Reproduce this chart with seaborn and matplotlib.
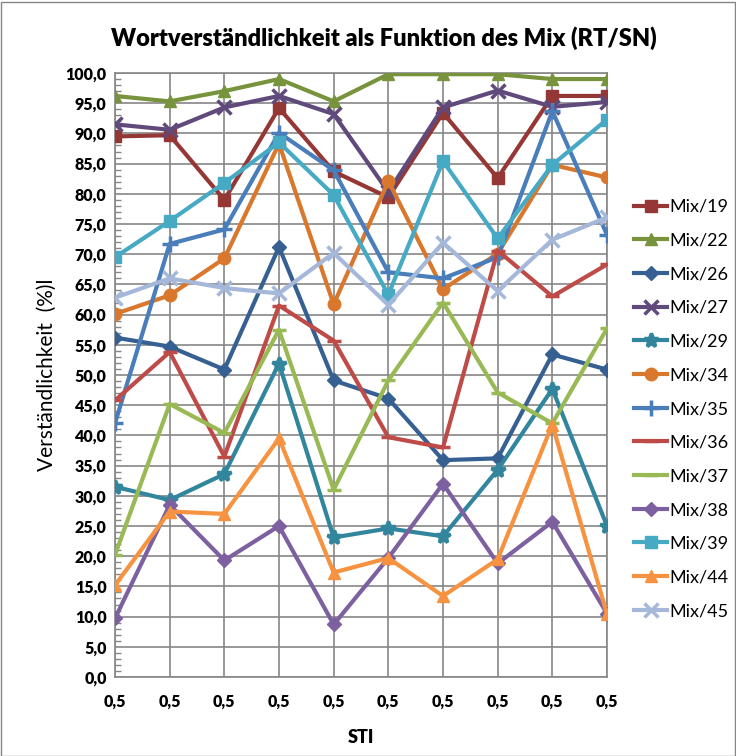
import matplotlib
matplotlib.use("Agg")
import matplotlib.pyplot as plt
import seaborn as sns
import numpy as np
import pandas as pd
from matplotlib.patches import Rectangle
from matplotlib.ticker import MultipleLocator, FuncFormatter

# ---- data ----
x_labels = ["0,5"] * 10
series_names = ["Mix/19", "Mix/22", "Mix/26", "Mix/27", "Mix/29", "Mix/34", "Mix/35",
                "Mix/36", "Mix/37", "Mix/38", "Mix/39", "Mix/44", "Mix/45"]
mix19 = [89.5, 89.7, 79.0, 94.2, 83.7, 79.4, 93.4, 82.6, 96.2, 96.2]
mix22 = [96.2, 95.3, 97.0, 99.0, 95.3, 99.8, 99.8, 99.8, 99.0, 99.0]
mix26 = [56.2, 54.7, 50.9, 71.2, 49.1, 46.1, 35.9, 36.2, 53.4, 50.9]
mix27 = [91.5, 90.6, 94.3, 96.2, 93.2, 80.3, 94.3, 97.1, 94.4, 95.2]
mix29 = [31.5, 29.3, 33.6, 51.9, 23.1, 24.6, 23.3, 34.3, 47.7, 25.0]
mix34 = [60.1, 63.2, 69.3, 88.3, 61.7, 82.1, 64.2, 70.1, 84.8, 82.7]
mix35 = [42.0, 71.7, 74.1, 90.1, 83.9, 67.0, 66.0, 69.5, 93.7, 73.2]
mix36 = [45.8, 53.8, 36.5, 61.5, 55.7, 39.7, 38.0, 70.6, 63.0, 68.3]
mix37 = [20.2, 45.2, 40.4, 57.5, 31.0, 49.1, 62.0, 47.1, 42.0, 57.7]
mix38 = [9.7, 28.5, 19.3, 25.0, 8.7, 19.7, 32.0, 18.8, 25.7, 10.5]
mix39 = [69.5, 75.5, 81.8, 88.5, 79.8, 63.3, 85.4, 72.6, 84.8, 92.3]
mix44 = [15.2, 27.4, 27.0, 39.5, 17.3, 19.7, 13.4, 19.5, 41.8, 10.4]
mix45 = [62.8, 66.0, 64.4, 63.5, 70.2, 61.6, 71.9, 63.9, 72.4, 76.1]

values = [mix19, mix22, mix26, mix27, mix29, mix34, mix35,
          mix36, mix37, mix38, mix39, mix44, mix45]
colors = ["#953735", "#77933C", "#376092", "#604A7B", "#31859C", "#D9782D", "#4A7EBB",
          "#BE4B48", "#98B954", "#7D60A0", "#46AAC5", "#F69240", "#A5B8DA"]
markers = ["s", "^", "D", "x", "*", "o", "+", "_", "_", "D", "s", "^", "x"]
msizes = [9, 9, 7, 10, 10, 9, 11, 10, 10, 7, 9, 9, 10]

title = "Wortverständlichkeit als Funktion des Mix (RT/SN)"
ylabel = "Verständlichkeit  (%)l"
xlabel = "STI"

# ---- figure ----
W, H = 736, 756
fig = plt.figure(figsize=(W / 100, H / 100), dpi=100)
fig.patch.set_facecolor("white")
fig.patches.append(Rectangle((0.5 / W, 0.5 / H), 1 - 2 / W, 1 - 2 / H,
                             transform=fig.transFigure, fill=False,
                             edgecolor="#868686", linewidth=1.0))

left, right = 115 / W, 607 / W
bottom, top = 1 - 677 / H, 1 - 73 / H
ax = fig.add_axes([left, bottom, right - left, top - bottom])

fam = ["Lato", "DejaVu Sans"]
xs = np.arange(len(x_labels))
for name, vals, c, m, ms in zip(series_names, values, colors, markers, msizes):
    df = pd.DataFrame({"x": xs, "y": vals})
    mew = 2.5 if m in ("x", "+", "_", "*") else 1.0
    sns.lineplot(data=df, x="x", y="y", ax=ax, color=c, linewidth=3.0,
                 marker=m, markersize=ms, markeredgewidth=mew,
                 markeredgecolor=c, markerfacecolor=c, label=name, zorder=3)

ax.set_xlim(0, 9)
ax.set_ylim(0, 100)
ax.set_xticks(xs)
ax.set_xticklabels(x_labels, fontsize=11.5, fontweight="heavy", family=fam)
ax.yaxis.set_major_locator(MultipleLocator(5))
ax.yaxis.set_minor_locator(MultipleLocator(1))
ax.yaxis.set_major_formatter(FuncFormatter(lambda v, p: f"{v:.1f}".replace(".", ",")))
for lbl in ax.get_yticklabels():
    lbl.set_fontsize(11.5)
    lbl.set_fontweight("heavy")
    lbl.set_family(fam)
ax.tick_params(axis="y", which="minor", direction="in", length=4, color="#868686", width=1)
ax.tick_params(axis="y", which="major", direction="out", length=0, pad=6)
ax.tick_params(axis="x", which="major", direction="out", length=0, pad=12)

ax.grid(True, which="major", color="#868686", linewidth=1.2)
ax.set_axisbelow(True)
for sp in ax.spines.values():
    sp.set_color("#868686")
    sp.set_linewidth(1.2)

ax.set_xlabel(xlabel, fontsize=13, fontweight="heavy", family=fam, labelpad=14)
ax.set_ylabel(ylabel, fontsize=15, family=fam, labelpad=6)
fig.text(384 / W, 1 - 38 / H, title, ha="center", va="center",
         fontsize=17, fontweight="heavy", family=fam)

handles, labels = ax.get_legend_handles_labels()
if ax.legend_:
    ax.legend_.remove()
fig.legend(handles, labels, loc="center left",
           bbox_to_anchor=(634 / W, 1 - 409 / H), frameon=False,
           prop={"family": fam, "size": 13}, handlelength=1.85,
           handletextpad=0.12, labelspacing=0.98, borderpad=0, borderaxespad=0)

fig.savefig("out.png", dpi=100)
